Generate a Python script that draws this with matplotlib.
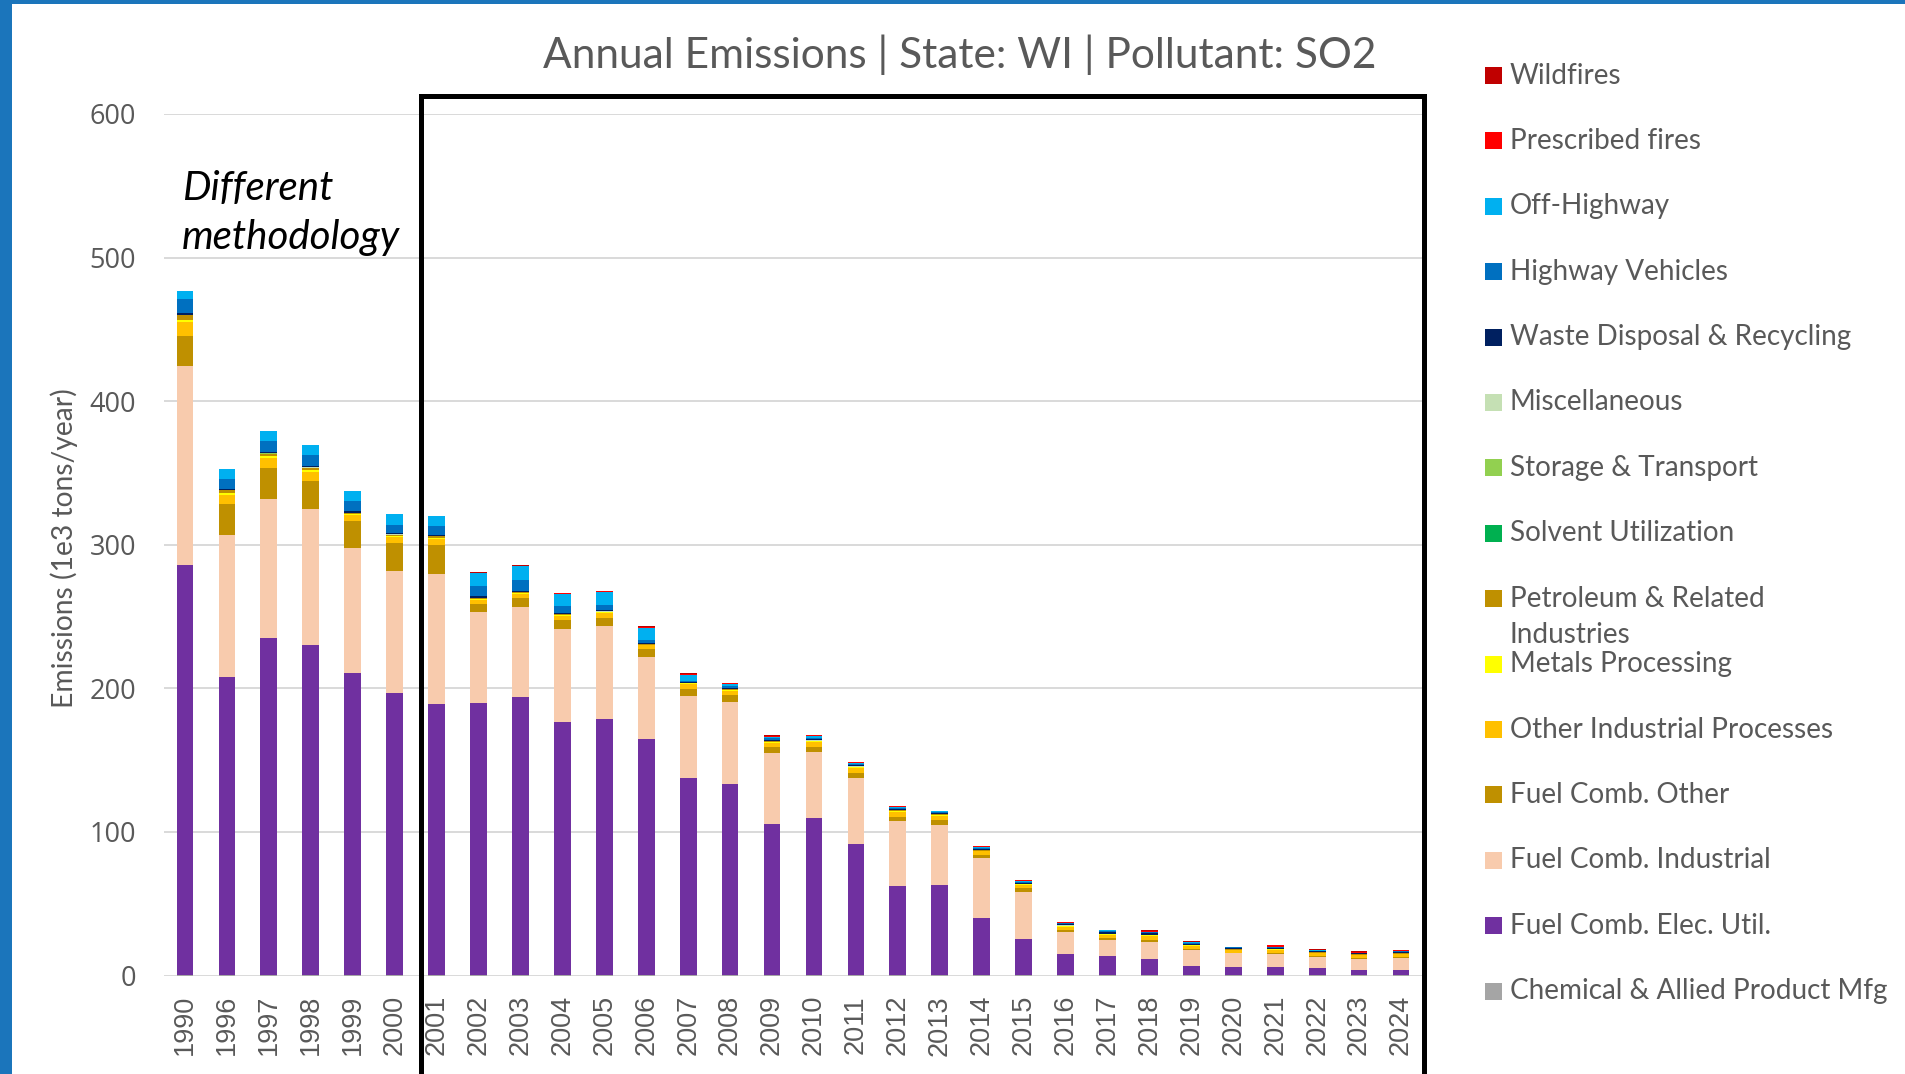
import matplotlib
matplotlib.use("Agg")
import matplotlib.pyplot as plt
from matplotlib.patches import Rectangle

# years on the x axis (1991-1995 are not in the chart)
years = [1990, 1996, 1997, 1998, 1999, 2000, 2001, 2002, 2003, 2004, 2005, 2006, 2007,
         2008, 2009, 2010, 2011, 2012, 2013, 2014, 2015, 2016, 2017, 2018, 2019, 2020,
         2021, 2022, 2023, 2024]

# emissions, 1e3 tons/year
chem = [0.3, 0.2, 0.2, 0.2, 0.2, 0.2, 0.2, 0.1, 0.1, 0.1, 0.1, 0.1, 0.1, 0.1, 0.1,
        0.1, 0.1, 0.1, 0.1, 0.1, 0.1, 0.1, 0.1, 0.1, 0.1, 0.1, 0.1, 0.1, 0.1, 0.1]
elec = [285.6, 207.4, 235.2, 230.1, 210.6, 196.3, 189.1, 189.8, 194.0, 176.3, 178.2,
        164.7, 137.7, 133.5, 105.6, 109.8, 91.7, 62.0, 62.6, 40.1, 25.5, 14.8, 13.6,
        11.5, 6.8, 5.7, 5.7, 5.0, 3.8, 4.0]
ind = [138.5, 99.1, 96.4, 94.3, 86.6, 85.1, 90.2, 63.2, 62.8, 65.1, 64.8, 56.9, 56.7,
       56.7, 49.1, 45.6, 45.8, 45.5, 42.4, 41.4, 32.7, 15.5, 11.2, 11.9, 11.0, 9.6, 9.3,
       7.7, 7.7, 8.1]
fuel_other = [20.9, 21.6, 21.8, 19.5, 18.8, 19.3, 20.2, 5.9, 6.0, 5.8, 5.6, 5.4, 5.2,
              4.9, 4.6, 3.5, 3.2, 3.0, 3.4, 2.0, 2.3, 1.2, 0.9, 1.4, 0.9, 0.6, 0.7,
              0.8, 0.8, 0.8]
other_ind = [9.8, 6.5, 6.6, 6.7, 4.4, 4.6, 4.4, 2.7, 2.8, 3.2, 3.6, 2.8, 3.2, 3.0, 2.8,
             3.6, 3.7, 3.4, 2.8, 2.9, 2.3, 2.5, 2.6, 2.5, 1.8, 1.8, 2.2, 2.0, 1.8, 2.0]
metals = [1.6, 1.2, 1.4, 1.4, 0.7, 0.7, 0.7, 0.7, 0.7, 0.8, 0.8, 0.6, 0.6, 0.6, 0.6,
          0.6, 0.6, 0.6, 0.5, 0.5, 0.5, 0.4, 0.4, 0.5, 0.4, 0.3, 0.3, 0.3, 0.3, 0.3]
petro = [3.0, 1.8, 1.8, 1.4, 0.8, 0.7, 1.0, 0.5, 0.5, 0.4, 0.4, 0.4, 0.4, 0.4, 0.3,
         0.4, 0.4, 0.4, 0.4, 0.3, 0.3, 0.3, 0.3, 0.4, 0.3, 0.2, 0.2, 0.2, 0.2, 0.2]
solvent = [0.1, 0.1, 0.1, 0.1, 0.1, 0.1, 0.1, 0.0, 0.0, 0.0, 0.0, 0.0, 0.0, 0.0, 0.0,
           0.0, 0.0, 0.0, 0.0, 0.0, 0.0, 0.0, 0.0, 0.0, 0.0, 0.0, 0.0, 0.0, 0.0, 0.0]
storage = [0.1, 0.1, 0.1, 0.1, 0.1, 0.1, 0.1, 0.0, 0.0, 0.0, 0.0, 0.0, 0.0, 0.0, 0.0,
           0.0, 0.0, 0.0, 0.0, 0.0, 0.0, 0.0, 0.0, 0.0, 0.0, 0.0, 0.0, 0.0, 0.0, 0.0]
misc = [0.1, 0.1, 0.1, 0.1, 0.1, 0.1, 0.1, 0.1, 0.1, 0.1, 0.1, 0.1, 0.1, 0.1, 0.1,
        0.1, 0.1, 0.1, 0.1, 0.1, 0.1, 0.1, 0.1, 0.1, 0.1, 0.1, 0.1, 0.1, 0.1, 0.1]
waste = [1.2, 1.0, 0.9, 1.0, 1.1, 0.9, 1.0, 1.1, 1.1, 1.0, 0.8, 0.9, 0.5, 0.7, 0.7,
         0.7, 0.9, 0.6, 0.6, 0.5, 0.7, 0.8, 0.9, 0.9, 0.8, 0.7, 0.8, 0.7, 0.6, 0.8]
highway = [10.0, 6.5, 7.5, 7.4, 7.0, 5.6, 5.8, 7.0, 7.5, 4.4, 3.7, 2.1, 0.6, 1.3, 1.3,
           1.3, 1.0, 0.9, 0.9, 1.0, 0.8, 0.6, 0.7, 0.7, 0.6, 0.5, 0.5, 0.5, 0.4, 0.5]
off_highway = [5.8, 6.9, 6.9, 7.0, 7.0, 7.6, 7.2, 9.1, 9.4, 8.7, 9.0, 8.3, 4.4, 2.0,
               1.0, 1.3, 0.7, 0.7, 0.7, 0.9, 0.5, 0.6, 0.6, 0.2, 0.2, 0.2, 0.2, 0.2,
               0.2, 0.3]
prescribed = [0.0, 0.0, 0.0, 0.0, 0.0, 0.0, 0.0, 0.3, 0.4, 0.2, 0.5, 0.6, 0.6, 0.2,
              0.8, 0.4, 0.5, 0.6, 0.2, 0.1, 0.5, 0.4, 0.4, 1.1, 0.6, 0.2, 0.8, 0.4,
              0.3, 0.4]
wildfires = [0.0, 0.0, 0.0, 0.0, 0.0, 0.0, 0.0, 0.2, 0.2, 0.1, 0.2, 0.3, 0.3, 0.1,
             0.4, 0.3, 0.2, 0.3, 0.1, 0.1, 0.2, 0.2, 0.2, 0.5, 0.2, 0.1, 0.3, 0.2,
             0.8, 0.2]

# bottom to top of each stack
series = [
    ("Chemical & Allied Product Mfg", chem, "#a5a5a5"),
    ("Fuel Comb. Elec. Util.", elec, "#7030a0"),
    ("Fuel Comb. Industrial", ind, "#f8cbad"),
    ("Fuel Comb. Other", fuel_other, "#bf9000"),
    ("Other Industrial Processes", other_ind, "#ffc000"),
    ("Metals Processing", metals, "#ffff00"),
    ("Petroleum & Related\nIndustries", petro, "#bf9000"),
    ("Solvent Utilization", solvent, "#00b050"),
    ("Storage & Transport", storage, "#92d050"),
    ("Miscellaneous", misc, "#c5e0b4"),
    ("Waste Disposal & Recycling", waste, "#002060"),
    ("Highway Vehicles", highway, "#0070c0"),
    ("Off-Highway", off_highway, "#00b0f0"),
    ("Prescribed fires", prescribed, "#ff0000"),
    ("Wildfires", wildfires, "#c00000"),
]

W, H = 1906, 1074
grey = "#595959"

fig = plt.figure(figsize=(W / 100, H / 100), dpi=100)
fig.patch.set_facecolor("white")
ax = fig.add_axes([164 / W, 1 - 975.5 / H, (1422 - 164) / W, (975.5 - 114) / H])

x = list(range(len(years)))
bottom = [0.0] * len(years)
for name, vals, col in series:
    ax.bar(x, vals, width=0.4, bottom=bottom, color=col, linewidth=0, zorder=3)
    bottom = [b + v for b, v in zip(bottom, vals)]

ax.set_xlim(-0.5, len(years) - 0.5)
ax.set_ylim(0, 600)
ax.set_yticks(range(0, 601, 100))
ax.set_xticks(x)
ax.set_xticklabels([str(y) for y in years], rotation=90, family="Liberation Sans",
                   fontsize=19.5, color=grey)
for lab in ax.get_yticklabels():
    lab.set_family("Open Sans")
    lab.set_fontsize(19.5)
    lab.set_color(grey)
ax.tick_params(axis="x", length=0, pad=14)
ax.tick_params(axis="y", length=0, pad=20)
ax.grid(axis="y", color="#d9d9d9", linewidth=1.4, zorder=0)
ax.set_axisbelow(True)
for s in ax.spines.values():
    s.set_visible(False)

# box around the 2001+ years
ax.add_patch(Rectangle((5.617, -300), 29.54 - 5.617, 612.6 + 300, fill=False,
                       edgecolor="black", linewidth=3.6, clip_on=False, zorder=6))

fig.text(960 / W, 1 - 54.5 / H, "Annual Emissions | State: WI | Pollutant: SO2",
         ha="center", va="center", family="Lato", fontsize=30.5, color=grey)
fig.text(64 / W, 1 - 548 / H, "Emissions (1e3 tons/year)", rotation=90,
         ha="center", va="center", family="Lato", fontsize=20.3, color=grey)
fig.text(182 / W, 1 - 200 / H, "Different", ha="left", va="baseline",
         family="Lato", style="italic", fontsize=29, color="black")
fig.text(182 / W, 1 - 249 / H, "methodology", ha="left", va="baseline",
         family="Lato", style="italic", fontsize=29, color="black")

# legend, top entry is the top of the stack
for i, (name, vals, col) in enumerate(series[::-1]):
    yc = 75.5 + i * 65.4
    fig.add_artist(Rectangle((1485.5 / W, 1 - (yc + 8.5) / H), 17 / W, 17 / H,
                             facecolor=col, edgecolor="none", transform=fig.transFigure))
    for k, line in enumerate(name.split("\n")):
        fig.text(1510 / W, 1 - (yc + k * 36.5) / H, line, ha="left", va="center",
                 family="Lato", fontsize=20.1, color=grey)

# blue frame of the slide
fig.add_artist(Rectangle((0, 0), 12 / W, 1, facecolor="#1b75bb", edgecolor="none",
                         transform=fig.transFigure))
fig.add_artist(Rectangle((0, 1 - 4 / H), 1, 4 / H, facecolor="#1b75bb",
                         edgecolor="none", transform=fig.transFigure))

fig.savefig("out.png", dpi=100)
